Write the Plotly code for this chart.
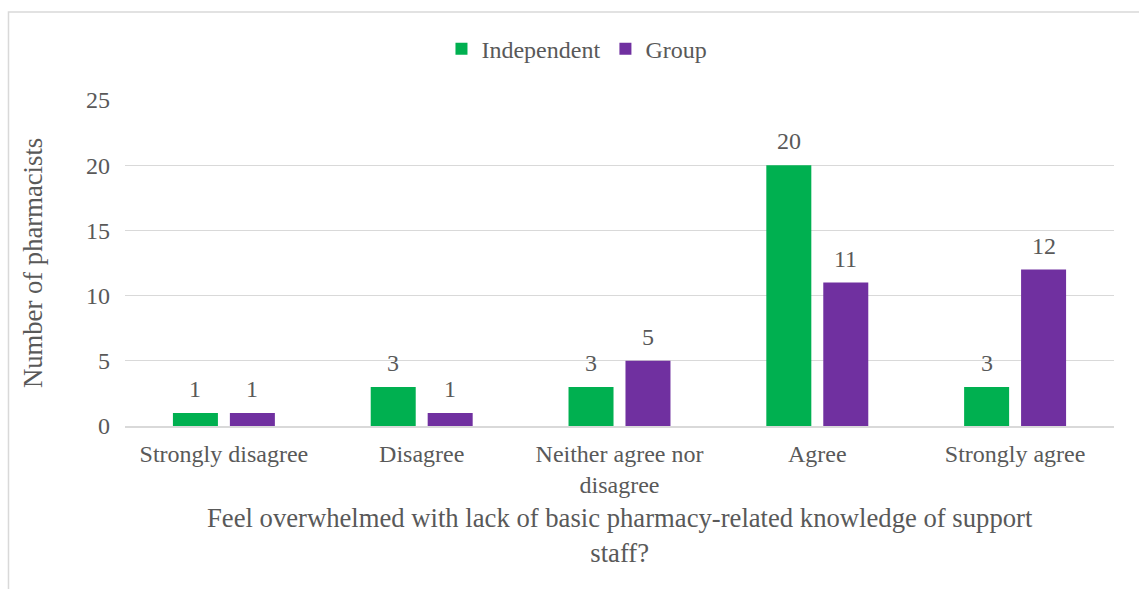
import plotly.graph_objects as go

categories = ["Strongly disagree", "Disagree", "Neither agree nor<br>disagree", "Agree", "Strongly agree"]
independent = [1, 3, 3, 20, 3]
group = [1, 1, 5, 11, 12]

FONT = "Liberation Serif"
GREY = "#595959"

fig = go.Figure()
fig.add_trace(go.Bar(
    name="Independent", x=categories, y=independent,
    marker=dict(color="#00B050", line=dict(width=0)),
))
fig.add_trace(go.Bar(
    name="Group", x=categories, y=group,
    marker=dict(color="#7030A0", line=dict(width=0)),
))

# value labels centred above each bar of the pair
labels = []
for series, shift in ((independent, -28.5), (group, 28.5)):
    for cat, val in zip(categories, series):
        labels.append(dict(x=cat, y=val, xref="x", yref="y", text=str(val),
                           showarrow=False, xshift=shift, yshift=24,
                           xanchor="center", yanchor="middle",
                           font=dict(family=FONT, size=24, color=GREY)))

fig.update_layout(
    width=1139, height=589,
    margin=dict(l=125, r=25, t=100, b=163),
    paper_bgcolor="white", plot_bgcolor="white",
    font=dict(family=FONT, size=24, color=GREY),
    barmode="group", bargap=0.424, bargroupgap=0.21,
    showlegend=True,
    legend=dict(orientation="h", x=0.457, xanchor="center", y=1.156, yanchor="middle",
                font=dict(family=FONT, size=24, color=GREY), bgcolor="rgba(0,0,0,0)"),
    xaxis=dict(showgrid=False, showline=True, linecolor="#d9d9d9", linewidth=1.5,
               ticks="", ticklabelstandoff=5, tickfont=dict(family=FONT, size=24, color=GREY)),
    yaxis=dict(range=[0, 25], dtick=5, showgrid=True, gridcolor="#d9d9d9", gridwidth=1,
               zeroline=False, showline=False, ticks="", ticklabelstandoff=14,
               tickfont=dict(family=FONT, size=24, color=GREY)),
    annotations=labels + [
        dict(text="Number of pharmacists", xref="paper", yref="paper",
             x=-0.093, y=0.5, textangle=-90, showarrow=False,
             font=dict(family=FONT, size=26.67, color=GREY), xanchor="center", yanchor="middle"),
        dict(text="Feel overwhelmed with lack of basic pharmacy-related knowledge of support<br>staff?",
             xref="paper", yref="paper", x=0.500, y=-0.337, showarrow=False,
             font=dict(family=FONT, size=26.67, color=GREY), xanchor="center", yanchor="middle"),
    ],
    shapes=[
        dict(type="rect", xref="paper", yref="paper", x0=-0.1178, x1=1.2, y0=-0.6, y1=1.27,
             line=dict(color="#d9d9d9", width=1.5), fillcolor="rgba(0,0,0,0)", layer="below"),
    ],
)

fig.write_html("out.html")
